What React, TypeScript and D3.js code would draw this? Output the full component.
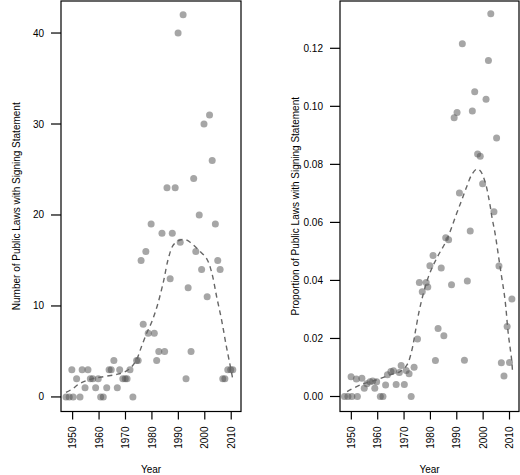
import React from "react";
import * as d3 from "d3";

// left panel: number of public laws with signing statement
const countYears = [
  1947.5, 1948.7, 1949.7, 1950.2, 1951.5, 1952.8, 1953.6, 1954.7, 1955.8, 1956.7,
  1957.6, 1958.7, 1959.7, 1960.6, 1961.6, 1962.9, 1963.8, 1964.6, 1965.6, 1966.9,
  1967.8, 1969.0, 1969.9, 1970.6, 1971.7, 1972.8, 1974.2, 1974.8, 1975.9, 1976.7,
  1977.7, 1978.6, 1979.7, 1980.9, 1981.8, 1982.6, 1983.8, 1984.8, 1985.7, 1986.9,
  1987.7, 1988.8, 1989.9, 1990.7, 1991.8, 1992.9, 1993.7, 1994.8, 1995.8, 1996.6,
  1997.9, 1998.8, 1999.7, 2000.9, 2001.8, 2002.8, 2004.0, 2004.9, 2005.8, 2006.8,
  2007.6, 2008.7, 2009.8, 2010.6,
];
const counts = [
  0, 0, 3, 0, 2, 0, 3, 1, 3, 2,
  2, 1, 2, 0, 0, 1, 3, 3, 4, 1,
  3, 2, 2, 2, 3, 0, 4, 4, 15, 8,
  16, 7, 19, 7, 4, 5, 18, 5, 23, 13,
  18, 23, 40, 17, 42, 2, 12, 5, 24, 16,
  20, 14, 30, 11, 31, 26, 19, 15, 14, 2,
  2, 3, 3, 3,
];
const countSmoothYears = [
  1947.5, 1950, 1952, 1954, 1957.5, 1962.5, 1967, 1970.4, 1972.3, 1974.2, 1976, 1978,
  1980, 1982, 1984.3, 1986.2, 1988.1, 1990.6, 1993, 1994.5, 1997.5, 2000.7, 2002.6,
  2004.5, 2006.4, 2008, 2009.5, 2010.5,
];
const countSmooth = [
  0.5, 0.9, 1.35, 1.65, 2.0, 2.27, 2.5, 2.86, 3.3, 4.1, 5.5, 7.0,
  8.3, 10.0, 12.6, 15.2, 16.7, 17.25, 17.25, 17.0, 16.2, 15.2, 13.7,
  11.0, 8.4, 5.8, 3.6, 2.1,
];
const countTicks = [0, 10, 20, 30, 40];

// right panel: proportion of public laws with signing statement
const propYears = [
  1947.4, 1948.7, 1949.9, 1950.2, 1951.9, 1952.3, 1954.0, 1954.9, 1955.9, 1957.1,
  1958.1, 1958.9, 1959.6, 1961.0, 1962.0, 1963.0, 1963.7, 1965.0, 1966.0, 1967.0,
  1968.2, 1968.9, 1970.1, 1970.8, 1971.9, 1972.7, 1973.8, 1975.1, 1975.8, 1976.9,
  1978.4, 1979.0, 1979.8, 1981.0, 1981.9, 1982.9, 1984.1, 1985.1, 1985.8, 1986.9,
  1988.0, 1989.0, 1990.1, 1991.0, 1992.1, 1992.9, 1994.0, 1995.1, 1995.9, 1996.8,
  1997.9, 1998.9, 1999.8, 2001.1, 2002.0, 2002.9, 2004.1, 2005.1, 2006.0, 2006.9,
  2007.9, 2009.1, 2010.0, 2010.9,
];
const props = [
  0, 0, 0.0068, 0, 0.006, 0, 0.0063, 0.0028, 0.0044, 0.0051,
  0.0053, 0.0028, 0.0051, 0, 0, 0.004, 0.0075, 0.0086, 0.0089, 0.0041,
  0.0083, 0.0107, 0.0041, 0.009, 0.0078, 0, 0.0101, 0.0198, 0.0393, 0.0361,
  0.0393, 0.0377, 0.0451, 0.0486, 0.0124, 0.0234, 0.0443, 0.0209, 0.0547, 0.054,
  0.0385, 0.0961, 0.0979, 0.0701, 0.1216, 0.0125, 0.0398, 0.057, 0.0984, 0.105,
  0.0836, 0.0828, 0.0733, 0.1024, 0.1158, 0.1319, 0.0637, 0.0891, 0.045, 0.0116,
  0.0071, 0.0241, 0.0117, 0.0336,
];
const propSmoothYears = [
  1948.4, 1953.4, 1959.7, 1964.8, 1968.5, 1971.1, 1973, 1974.2, 1976.1, 1979.3, 1982.4,
  1986.2, 1990, 1992, 1993.8, 1995.7, 1997.6, 1998.8, 2000.7, 2002.6, 2003.3, 2004.5,
  2006.4, 2008.3, 2009.5, 2010.8, 2011.1,
];
const propSmooth = [
  0.0017, 0.004, 0.0058, 0.0075, 0.0086, 0.0109, 0.0161, 0.0219, 0.031, 0.0414, 0.0477,
  0.054, 0.0632, 0.068, 0.0724, 0.0765, 0.0784, 0.0779, 0.0741, 0.066, 0.062, 0.0563,
  0.0448, 0.0333, 0.0219, 0.0127, 0.0092,
];
const propTicks = [0, 0.02, 0.04, 0.06, 0.08, 0.1, 0.12];

const yearTicks = [1950, 1960, 1970, 1980, 1990, 2000, 2010];

const FONT = "'Liberation Sans', Arial, Helvetica, sans-serif";

interface PanelProps {
  left: number;
  right: number;
  xDomain: [number, number];
  yDomain: [number, number];
  years: number[];
  values: number[];
  smoothYears: number[];
  smoothValues: number[];
  yTicks: number[];
  yFormat: (v: number) => string;
  yTitle: string;
  titleX: number;
}

const TOP = 1;
const BOTTOM = 411.5;

const Panel: React.FC<PanelProps> = (p) => {
  const x = d3.scaleLinear().domain(p.xDomain).range([p.left, p.right]);
  const y = d3.scaleLinear().domain(p.yDomain).range([BOTTOM, TOP]);

  const line = d3
    .line<number>()
    .x((_, i) => x(p.smoothYears[i]))
    .y((d) => y(d))
    .curve(d3.curveCatmullRom);

  const midX = (p.left + p.right) / 2;
  const midY = (TOP + BOTTOM) / 2;

  return (
    <g fontFamily={FONT} fontSize={10} fill="#000">
      {/* points */}
      {p.values.map((v, i) => (
        <circle
          key={i}
          cx={x(p.years[i])}
          cy={y(v)}
          r={3.5}
          fill="#4d4d4d"
          fillOpacity={0.5}
        />
      ))}
      {/* smooth */}
      <path
        d={line(p.smoothValues) || ""}
        fill="none"
        stroke="#666"
        strokeWidth={1.4}
        strokeDasharray="5,4"
      />
      {/* box */}
      <rect
        x={p.left}
        y={TOP}
        width={p.right - p.left}
        height={BOTTOM - TOP}
        fill="none"
        stroke="#000"
        strokeWidth={1.2}
      />
      {/* y axis */}
      {p.yTicks.map((t) => (
        <g key={t} transform={`translate(${p.left},${y(t)})`}>
          <line x1={-10} x2={0} stroke="#000" strokeWidth={1.2} />
          <text x={-17} dy="0.35em" textAnchor="end">
            {p.yFormat(t)}
          </text>
        </g>
      ))}
      {/* x axis */}
      {yearTicks.map((t) => (
        <g key={t} transform={`translate(${x(t)},${BOTTOM})`}>
          <line y1={0} y2={8} stroke="#000" strokeWidth={1.2} />
          <text
            transform="translate(3.6,15) rotate(-90)"
            textAnchor="end"
          >
            {t}
          </text>
        </g>
      ))}
      <text x={midX} y={473} textAnchor="middle">
        Year
      </text>
      <text
        transform={`translate(${p.titleX},${midY}) rotate(-90)`}
        textAnchor="middle"
      >
        {p.yTitle}
      </text>
    </g>
  );
};

export default function App() {
  return (
    <div style={{ position: "absolute", left: 0, top: 0 }}>
      <svg width={520} height={475} style={{ display: "block", background: "#fff" }}>
        <Panel
          left={61}
          right={241}
          xDomain={[1945.6, 2013.7]}
          yDomain={[-1.6, 43.52]}
          years={countYears}
          values={counts}
          smoothYears={countSmoothYears}
          smoothValues={countSmooth}
          yTicks={countTicks}
          yFormat={(v) => String(v)}
          yTitle="Number of Public Laws with Signing Statement"
          titleX={20}
        />
        <Panel
          left={340}
          right={519}
          xDomain={[1945.7, 2013.6]}
          yDomain={[-0.00517, 0.1363]}
          years={propYears}
          values={props}
          smoothYears={propSmoothYears}
          smoothValues={propSmooth}
          yTicks={propTicks}
          yFormat={(v) => v.toFixed(2)}
          yTitle="Proportion of Public Laws with Signing Statement"
          titleX={299}
        />
      </svg>
    </div>
  );
}
